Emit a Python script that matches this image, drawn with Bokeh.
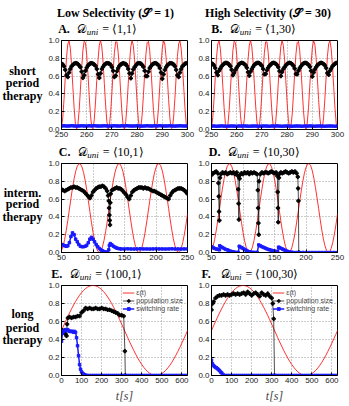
from bokeh.plotting import figure
from bokeh.layouts import column, row
from bokeh.models import Range1d, FixedTicker, PrintfTickFormatter, Label, Legend, LegendItem
from bokeh.embed import file_html
from bokeh.resources import INLINE

# ---------------- text ----------------
COL_TITLES = ["Low Selectivity (\U0001D4AE = 1)", "High Selectivity (\U0001D4AE = 30)"]
ROW_LABELS = [["short", "period", "therapy"], ["interm.", "period", "therapy"], ["long", "period", "therapy"]]
PANEL_LETTERS = [["A.", "B."], ["C.", "D."], ["E.", "F."]]
PANEL_PARAMS = [["\u27E81,1\u27E9", "\u27E81,30\u27E9"], ["\u27E810,1\u27E9", "\u27E810,30\u27E9"],
                ["\u27E8100,1\u27E9", "\u27E8100,30\u27E9"]]
LEGEND_LABELS = ["\u03B5(t)", "population size", "switching rate"]
X_LABEL = "t[s]"

Y_TICKS = [0.0, 0.2, 0.4, 0.6, 0.8, 1.0]
X_TICKS = [[250, 260, 270, 280, 290, 300], [50, 100, 150, 200, 250], [0, 100, 200, 300, 400, 500, 600]]
X_RANGES = [(250, 300), (50, 250), (0, 628)]

# ---------------- row 1: short period ----------------
T_SHORT = [250, 250.5, 251, 251.5, 252, 252.5, 253, 253.5, 254, 254.5,
           255, 255.5, 256, 256.5, 257, 257.5, 258, 258.5, 259, 259.5,
           260, 260.5, 261, 261.5, 262, 262.5, 263, 263.5, 264, 264.5,
           265, 265.5, 266, 266.5, 267, 267.5, 268, 268.5, 269, 269.5,
           270, 270.5, 271, 271.5, 272, 272.5, 273, 273.5, 274, 274.5,
           275, 275.5, 276, 276.5, 277, 277.5, 278, 278.5, 279, 279.5,
           280, 280.5, 281, 281.5, 282, 282.5, 283, 283.5, 284, 284.5,
           285, 285.5, 286, 286.5, 287, 287.5, 288, 288.5, 289, 289.5,
           290, 290.5, 291, 291.5, 292, 292.5, 293, 293.5, 294, 294.5,
           295, 295.5, 296, 296.5, 297, 297.5, 298, 298.5, 299, 299.5, 300]
EPS_SHORT = [0.015, 0.132, 0.339, 0.586, 0.812, 0.961, 0.997, 0.912, 0.726, 0.484,
             0.247, 0.071, 0.000, 0.052, 0.214, 0.445, 0.690, 0.889, 0.992, 0.975,
             0.842, 0.625, 0.377, 0.160, 0.026, 0.008, 0.110, 0.309, 0.553, 0.785,
             0.947, 1.000, 0.930, 0.755, 0.517, 0.275, 0.089, 0.003, 0.038, 0.187,
             0.412, 0.659, 0.867, 0.985, 0.984, 0.865, 0.656, 0.410, 0.185, 0.037,
             0.003, 0.091, 0.279, 0.520, 0.757, 0.931, 1.000, 0.946, 0.783, 0.550,
             0.305, 0.108, 0.007, 0.027, 0.162, 0.380, 0.628, 0.844, 0.976, 0.991,
             0.887, 0.687, 0.442, 0.211, 0.051, 0.000, 0.073, 0.249, 0.487, 0.729,
             0.914, 0.998, 0.960, 0.809, 0.583, 0.337, 0.130, 0.014, 0.017, 0.139,
             0.348, 0.595, 0.819, 0.964, 0.996, 0.907, 0.717, 0.475, 0.239, 0.066, 0.000]
POP_A = [0.74, 0.73, 0.71, 0.67, 0.61, 0.59, 0.64, 0.68, 0.71, 0.725,
         0.74, 0.745, 0.745, 0.735, 0.72, 0.70, 0.65, 0.58, 0.61, 0.66,
         0.695, 0.72, 0.73, 0.745, 0.745, 0.74, 0.73, 0.715, 0.68, 0.62,
         0.58, 0.63, 0.68, 0.705, 0.725, 0.74, 0.745, 0.745, 0.74, 0.725,
         0.70, 0.66, 0.59, 0.605, 0.655, 0.69, 0.715, 0.73, 0.74, 0.745,
         0.74, 0.735, 0.715, 0.68, 0.63, 0.575, 0.63, 0.675, 0.70, 0.72,
         0.74, 0.745, 0.745, 0.74, 0.725, 0.705, 0.66, 0.60, 0.60, 0.65,
         0.69, 0.71, 0.73, 0.74, 0.745, 0.745, 0.735, 0.72, 0.69, 0.64,
         0.57, 0.62, 0.67, 0.70, 0.72, 0.735, 0.745, 0.745, 0.74, 0.73,
         0.71, 0.67, 0.61, 0.59, 0.64, 0.68, 0.71, 0.725, 0.74, 0.745, 0.745]
POP_B = [0.745, 0.735, 0.72, 0.69, 0.64, 0.61, 0.66, 0.685, 0.71, 0.725,
         0.74, 0.748, 0.748, 0.742, 0.73, 0.71, 0.67, 0.61, 0.635, 0.67,
         0.695, 0.715, 0.735, 0.745, 0.75, 0.745, 0.737, 0.722, 0.695, 0.645,
         0.605, 0.65, 0.68, 0.705, 0.725, 0.74, 0.747, 0.75, 0.745, 0.73,
         0.715, 0.68, 0.62, 0.625, 0.665, 0.695, 0.715, 0.73, 0.743, 0.75,
         0.747, 0.738, 0.725, 0.70, 0.655, 0.60, 0.645, 0.68, 0.70, 0.722,
         0.737, 0.746, 0.75, 0.745, 0.733, 0.717, 0.685, 0.625, 0.62, 0.66,
         0.69, 0.71, 0.73, 0.742, 0.748, 0.748, 0.74, 0.727, 0.705, 0.66,
         0.595, 0.64, 0.675, 0.70, 0.72, 0.735, 0.745, 0.75, 0.745, 0.735,
         0.72, 0.69, 0.635, 0.615, 0.66, 0.685, 0.71, 0.727, 0.74, 0.748, 0.748]
T_SHORT_SW = [250, 251, 252, 253, 254, 255, 256, 257, 258, 259, 260, 261, 262, 263, 264, 265, 266,
              267, 268, 269, 270, 271, 272, 273, 274, 275, 276, 277, 278, 279, 280, 281, 282, 283,
              284, 285, 286, 287, 288, 289, 290, 291, 292, 293, 294, 295, 296, 297, 298, 299, 300]
SW_A = [0.040, 0.041, 0.039, 0.040, 0.042, 0.040, 0.038, 0.040, 0.041, 0.040, 0.039, 0.041, 0.040,
        0.042, 0.040, 0.039, 0.040, 0.041, 0.040, 0.038, 0.040, 0.041, 0.040, 0.039, 0.041, 0.040,
        0.042, 0.040, 0.039, 0.040, 0.041, 0.040, 0.038, 0.040, 0.041, 0.040, 0.039, 0.041, 0.040,
        0.042, 0.040, 0.039, 0.040, 0.041, 0.040, 0.038, 0.040, 0.041, 0.040, 0.039, 0.040]
SW_B = [0.038, 0.039, 0.037, 0.038, 0.040, 0.038, 0.037, 0.038, 0.039, 0.038, 0.037, 0.039, 0.038,
        0.040, 0.038, 0.037, 0.038, 0.039, 0.038, 0.037, 0.038, 0.039, 0.038, 0.037, 0.039, 0.038,
        0.040, 0.038, 0.037, 0.038, 0.039, 0.038, 0.037, 0.038, 0.039, 0.038, 0.037, 0.039, 0.038,
        0.040, 0.038, 0.037, 0.038, 0.039, 0.038, 0.037, 0.038, 0.039, 0.038, 0.037, 0.038]

# ---------------- row 2: intermediate period ----------------
T_MID = [50, 52.5, 55, 57.5, 60, 62.5, 65, 67.5, 70, 72.5, 75, 77.5, 80, 82.5, 85, 87.5, 90, 92.5, 95, 97.5,
         100, 102.5, 105, 107.5, 110, 112.5, 115, 117.5, 120, 122.5, 125, 127.5, 130, 132.5, 135, 137.5,
         140, 142.5, 145, 147.5, 150, 152.5, 155, 157.5, 160, 162.5, 165, 167.5, 170, 172.5, 175, 177.5,
         180, 182.5, 185, 187.5, 190, 192.5, 195, 197.5, 200, 202.5, 205, 207.5, 210, 212.5, 215, 217.5,
         220, 222.5, 225, 227.5, 230, 232.5, 235, 237.5, 240, 242.5, 245, 247.5, 250]
EPS_MID = [0.021, 0.071, 0.147, 0.246, 0.360, 0.483, 0.608, 0.725, 0.828, 0.912,
           0.969, 0.997, 0.995, 0.961, 0.899, 0.812, 0.706, 0.587, 0.462, 0.340,
           0.228, 0.133, 0.060, 0.015, 0.000, 0.016, 0.062, 0.136, 0.232, 0.344,
           0.467, 0.592, 0.710, 0.816, 0.902, 0.963, 0.995, 0.997, 0.967, 0.909,
           0.825, 0.721, 0.603, 0.479, 0.356, 0.242, 0.144, 0.068, 0.019, 0.000,
           0.010, 0.054, 0.125, 0.218, 0.331, 0.453, 0.575, 0.693, 0.801, 0.892,
           0.956, 0.994, 0.998, 0.975, 0.918, 0.835, 0.731, 0.614, 0.496, 0.372,
           0.256, 0.156, 0.077, 0.024, 0.001, 0.008, 0.047, 0.113, 0.203, 0.311, 0.434]
T_C_POP = [50, 52.5, 55, 57.5, 60, 62.5, 65, 67.5, 70, 72.5, 75, 77.5, 80, 82.5, 85, 87.5, 90, 92.5, 95,
           97.5, 100, 102.5, 105, 107.5, 110, 112.5, 115, 117.5, 120, 122.5, 124, 125, 125.5, 126, 126.5,
           127, 127.5, 128, 130, 132.5, 135, 137.5, 140, 142.5, 145, 147.5, 150, 152.5, 155, 157.5, 160,
           162.5, 165, 167.5, 170, 172.5, 175, 177.5, 180, 182.5, 185, 187.5, 190, 192.5, 195, 197.5, 200,
           202.5, 205, 207.5, 210, 212.5, 215, 217.5, 220, 222.5, 225, 227.5, 230, 232.5, 235, 237.5, 240,
           242.5, 245, 247.5, 250]
POP_C = [0.71, 0.70, 0.69, 0.70, 0.71, 0.72, 0.73, 0.73, 0.74, 0.73, 0.73, 0.72, 0.71, 0.70, 0.69, 0.67,
         0.65, 0.63, 0.61, 0.64, 0.68, 0.70, 0.72, 0.73, 0.74, 0.74, 0.75, 0.74, 0.72, 0.69, 0.64, 0.58,
         0.50, 0.42, 0.36, 0.31, 0.56, 0.66, 0.70, 0.71, 0.72, 0.73, 0.72, 0.72, 0.71, 0.69, 0.67, 0.65,
         0.62, 0.60, 0.64, 0.68, 0.70, 0.71, 0.72, 0.73, 0.73, 0.73, 0.72, 0.73, 0.72, 0.72, 0.71, 0.70,
         0.69, 0.69, 0.68, 0.67, 0.66, 0.65, 0.64, 0.63, 0.62, 0.61, 0.60, 0.64, 0.67, 0.69, 0.70, 0.71,
         0.72, 0.72, 0.72, 0.71, 0.70, 0.68, 0.66]
T_C_SW = [50, 52.5, 55, 57.5, 60, 62.5, 65, 67.5, 70, 72.5, 75, 77.5, 80, 82.5, 85, 87.5, 90, 92.5, 95, 97.5,
          100, 102.5, 105, 107.5, 110, 112.5, 115, 117.5, 120, 122.5, 125, 126, 127.5, 130, 132.5, 135, 137.5,
          140, 142.5, 145, 150, 155, 160, 165, 170, 175, 180, 185, 190, 195, 200, 205, 210, 215, 220, 225,
          230, 235, 240, 245, 250]
SW_C = [0.09, 0.085, 0.075, 0.07, 0.075, 0.11, 0.18, 0.22, 0.20, 0.15, 0.12, 0.09, 0.07, 0.065, 0.065, 0.07,
        0.08, 0.11, 0.15, 0.17, 0.15, 0.12, 0.09, 0.065, 0.045, 0.03, 0.02, 0.01, 0.005, 0.003, 0.03, 0.08,
        0.10, 0.085, 0.07, 0.06, 0.05, 0.045, 0.042, 0.04, 0.04, 0.041, 0.04, 0.039, 0.04, 0.041, 0.04, 0.04,
        0.039, 0.04, 0.041, 0.04, 0.04, 0.039, 0.04, 0.041, 0.04, 0.04, 0.039, 0.04, 0.04]
T_D_POP = [50, 52.5, 55, 57.5, 60, 61, 61.5, 62, 62.5, 63.5, 65, 67.5, 70, 72.5, 75, 77.5, 80, 82.5, 85, 87.5,
           90, 92, 92.5, 93, 93.5, 94.5, 95, 97.5, 100, 102.5, 105, 107.5, 110, 112.5, 115, 117.5, 120, 122.5,
           123.5, 124, 124.5, 125, 125.5, 127.5, 130, 132.5, 135, 137.5, 140, 142.5, 145, 147.5, 150, 152.5,
           154.5, 155, 155.5, 156, 157, 157.5, 160, 162.5, 165, 167.5, 170, 172.5, 175, 177.5, 180, 182.5, 185,
           187, 187.5, 188, 188.5]
POP_D = [0.87, 0.89, 0.90, 0.91, 0.89, 0.78, 0.63, 0.46, 0.36, 0.84, 0.88, 0.90, 0.89, 0.90, 0.88, 0.89, 0.90,
         0.89, 0.90, 0.88, 0.90, 0.86, 0.71, 0.55, 0.37, 0.83, 0.87, 0.89, 0.88, 0.90, 0.89, 0.90, 0.88, 0.90,
         0.89, 0.90, 0.89, 0.88, 0.70, 0.50, 0.33, 0.20, 0.80, 0.88, 0.90, 0.89, 0.90, 0.90, 0.89, 0.90, 0.91,
         0.90, 0.89, 0.90, 0.86, 0.68, 0.50, 0.34, 0.84, 0.88, 0.90, 0.89, 0.90, 0.91, 0.90, 0.89, 0.90, 0.91,
         0.90, 0.91, 0.89, 0.85, 0.72, 0.58, 0.0]
T_D_SW = [50, 52.5, 55, 57.5, 60, 62.5, 63, 65, 67.5, 70, 72.5, 75, 77.5, 80, 82.5, 85, 87.5, 90, 92.5, 94, 95,
          97.5, 100, 102.5, 105, 107.5, 110, 112.5, 115, 117.5, 120, 122.5, 125, 127.5, 130, 132.5, 135, 137.5,
          140, 142.5, 145, 147.5, 150, 152.5, 155, 156.5, 157.5, 160, 162.5, 165, 167.5, 170, 172.5, 175, 177.5,
          180, 185, 190, 195, 200, 205, 210, 215, 220, 225, 230, 235, 240, 245, 250]
SW_D = [0.065, 0.055, 0.045, 0.04, 0.035, 0.03, 0.075, 0.065, 0.055, 0.045, 0.035, 0.03, 0.022, 0.015, 0.01,
        0.005, 0.002, 0.0, 0.0, 0.07, 0.065, 0.055, 0.045, 0.035, 0.025, 0.015, 0.008, 0.004, 0.002, 0.0, 0.0,
        0.0, 0.085, 0.075, 0.065, 0.058, 0.05, 0.042, 0.035, 0.03, 0.025, 0.02, 0.015, 0.012, 0.01, 0.06, 0.055,
        0.048, 0.04, 0.03, 0.022, 0.015, 0.008, 0.004, 0.002, 0.0, 0.0, 0.0, 0.0, 0.0, 0.0, 0.0, 0.0, 0.0, 0.0,
        0.0, 0.0, 0.0, 0.0, 0.0]

# ---------------- row 3: long period ----------------
T_LONG = [0, 10, 20, 30, 40, 50, 60, 70, 80, 90, 100, 110, 120, 130, 140, 150, 160, 170, 180, 190, 200, 210,
          220, 230, 240, 250, 260, 270, 280, 290, 300, 310, 320, 330, 340, 350, 360, 370, 380, 390, 400, 410,
          420, 430, 440, 450, 460, 470, 480, 490, 500, 510, 520, 530, 540, 550, 560, 570, 580, 590, 600, 610,
          620, 630]
EPS_LONG = [0.500, 0.550, 0.599, 0.648, 0.695, 0.740, 0.782, 0.822, 0.859, 0.892,
            0.921, 0.946, 0.966, 0.982, 0.993, 0.999, 1.000, 0.996, 0.987, 0.973,
            0.955, 0.932, 0.904, 0.873, 0.838, 0.799, 0.758, 0.714, 0.668, 0.620,
            0.571, 0.521, 0.471, 0.421, 0.372, 0.325, 0.279, 0.235, 0.194, 0.156,
            0.122, 0.091, 0.064, 0.042, 0.024, 0.011, 0.003, 0.000, 0.002, 0.009,
            0.021, 0.037, 0.058, 0.084, 0.114, 0.147, 0.184, 0.225, 0.268, 0.313,
            0.360, 0.409, 0.458, 0.508]
T_E_POP = [0, 5, 10, 15, 20, 25, 28, 32, 40, 50, 60, 70, 80, 90, 100, 110, 120, 130, 140, 150, 160, 170, 180,
           190, 200, 210, 220, 230, 240, 250, 260, 270, 280, 290, 300, 310, 316, 318]
POP_E = [0.50, 0.50, 0.48, 0.50, 0.46, 0.44, 0.57, 0.64, 0.65, 0.64, 0.65, 0.65, 0.66, 0.66, 0.70, 0.72, 0.75,
         0.74, 0.75, 0.74, 0.74, 0.75, 0.74, 0.74, 0.75, 0.74, 0.74, 0.73, 0.73, 0.72, 0.71, 0.70, 0.69, 0.67,
         0.67, 0.66, 0.27, 0.0]
T_E_SW = [0, 5, 10, 15, 20, 25, 30, 35, 40, 45, 50, 55, 60, 65, 70, 75, 80, 85, 90, 95, 100, 105, 110, 115,
          120, 125, 130, 140, 150, 160, 170, 180, 190, 200, 210, 220, 230, 240, 250, 260, 270, 280, 290, 300,
          310, 320, 330, 340, 350, 360, 370, 380, 390, 400, 410, 420, 430, 440, 450, 460, 470, 480, 490, 500,
          510, 520, 530, 540, 550, 560, 570, 580, 590, 600, 610, 620]
SW_E = [0.38, 0.47, 0.49, 0.50, 0.51, 0.50, 0.51, 0.50, 0.49, 0.49, 0.49, 0.49, 0.48, 0.49, 0.48, 0.42, 0.33,
        0.22, 0.12, 0.07, 0.04, 0.025, 0.015, 0.008, 0.003, 0.0] + [0.0] * 50
T_F_POP = [0, 5, 10, 20, 30, 40, 50, 60, 70, 80, 90, 100, 110, 120, 130, 140, 150, 160, 170, 180, 190, 200,
           210, 220, 230, 240, 250, 260, 270, 280, 290, 300, 305, 310, 314]
POP_F = [0.73, 0.80, 0.82, 0.86, 0.88, 0.89, 0.89, 0.90, 0.89, 0.90, 0.89, 0.90, 0.91, 0.90, 0.91, 0.90, 0.91,
         0.92, 0.90, 0.93, 0.91, 0.89, 0.91, 0.92, 0.90, 0.88, 0.92, 0.90, 0.89, 0.91, 0.88, 0.86, 0.80, 0.63, 0.0]
T_F_SW = [0, 5, 10, 15, 20, 25, 30, 35, 40, 45, 50, 55, 60, 70, 80, 90, 100, 110, 120, 130, 140, 150, 160,
          170, 180, 190, 200, 210, 220, 230, 240, 250, 260, 270, 280, 290, 300, 310, 320, 330, 340, 350, 360,
          370, 380, 390, 400, 410, 420, 430, 440, 450, 460, 470, 480, 490, 500, 510, 520, 530, 540, 550, 560,
          570, 580, 590, 600, 610, 620]
SW_F = [0.17, 0.13, 0.11, 0.10, 0.09, 0.085, 0.075, 0.065, 0.055, 0.04, 0.03, 0.015, 0.005] + [0.0] * 56

# ---------------- styling / geometry ----------------
SERIF = "Liberation Serif"
SANS = "Liberation Sans"
RED = "#ff1a1a"
BLUE = "#1a1aff"
BLACK = "#000000"

TOTAL_W = 349
LABEL_W = 44
COL_GEOM = [(151, 17, 8), (154, 16, 12)]               # width, border left, border right
ROW_GEOM = [(105, 3, 13), (103, 3, 11), (124, 3, 31)]  # height, border top, border bottom
STRIP_H = [37, 18, 19]


def lbl(p, x, y, text, size, font=SERIF, style="normal", align="left", baseline="middle"):
    p.add_layout(Label(x=x, y=y, x_units="screen", y_units="screen", text=text,
                       text_font=font, text_font_size=f"{size}px", text_font_style=style,
                       text_align=align, text_baseline=baseline, text_color="black"))


def text_fig(w, h, top=0, bottom=0):
    p = figure(width=w, height=h, x_range=Range1d(0, 1), y_range=Range1d(0, 1),
               output_backend="svg", toolbar_location=None, title=None,
               min_border_left=0, min_border_right=0, min_border_top=top, min_border_bottom=bottom,
               x_axis_location=None, y_axis_location=None)
    p.grid.visible = False
    p.outline_line_color = None
    return p


def panel_title(p, x0, yc, r, c):
    # yc: vertical centre (screen px above the strip's bottom) of the main title text
    lbl(p, x0, yc, PANEL_LETTERS[r][c], 12, style="bold")
    lbl(p, x0 + 19, yc, "\U0001D49F", 12)
    lbl(p, x0 + 28.5, yc - 3.3, "uni", 9, style="italic")
    lbl(p, x0 + 44, yc, "= " + PANEL_PARAMS[r][c], 12)


def make_panel(r, c, t_eps, eps, t_pop, pop, t_sw, sw):
    w, bl, br = COL_GEOM[c]
    h, bt, bb = ROW_GEOM[r]
    p = figure(width=w, height=h, x_range=Range1d(*X_RANGES[r]), y_range=Range1d(0, 1),
               output_backend="svg", toolbar_location=None, title=None,
               min_border_left=bl, min_border_right=br, min_border_top=bt, min_border_bottom=bb)
    p.outline_line_color = "black"
    p.outline_line_alpha = 1.0
    p.outline_line_width = 1
    for ax in (p.xaxis[0], p.yaxis[0]):
        ax.major_tick_in = 3
        ax.major_tick_out = 0
        ax.minor_tick_in = 0
        ax.minor_tick_out = 0
        ax.major_tick_line_color = "black"
        ax.axis_line_color = "black"
        ax.major_label_text_font = SANS
        ax.major_label_text_font_size = "8px"
        ax.major_label_text_color = "#222222"
        ax.major_label_standoff = 2
    p.xaxis[0].ticker = FixedTicker(ticks=X_TICKS[r])
    p.yaxis[0].ticker = FixedTicker(ticks=Y_TICKS)
    p.yaxis[0].formatter = PrintfTickFormatter(format="%.1f")
    p.grid.grid_line_color = "#9a9a9a"
    p.grid.grid_line_dash = "1 2"
    p.grid.grid_line_width = 1

    r_eps = p.line(t_eps, eps, line_color=RED, line_width=0.9)
    r_pl = p.line(t_pop, pop, line_color=BLACK, line_width=0.7)
    r_ps = p.scatter(t_pop, pop, marker="plus", size=3.5, line_color=BLACK, fill_color=BLACK, line_width=0.9)
    r_sl = p.line(t_sw, sw, line_color=BLUE, line_width=1.5)
    r_ss = p.scatter(t_sw, sw, marker="square", size=2.5, line_color=BLUE, fill_color=BLUE)

    if r == 2:
        leg = Legend(items=[LegendItem(label=LEGEND_LABELS[0], renderers=[r_eps]),
                            LegendItem(label=LEGEND_LABELS[1], renderers=[r_pl, r_ps]),
                            LegendItem(label=LEGEND_LABELS[2], renderers=[r_sl, r_ss])],
                     location="top_right", background_fill_alpha=0, border_line_alpha=0,
                     label_text_font=SANS, label_text_font_size="7px", label_height=7,
                     glyph_height=7, glyph_width=12, spacing=1, padding=1, margin=3,
                     label_standoff=2)
        p.add_layout(leg)
        p.xaxis[0].axis_label = X_LABEL
        p.xaxis[0].axis_label_text_font = SERIF
        p.xaxis[0].axis_label_text_font_style = "italic"
        p.xaxis[0].axis_label_text_font_size = "12px"
        p.xaxis[0].axis_label_standoff = 3
    return p


# ---- title strips (texts placed inside their own frames) ----
s1 = text_fig(TOTAL_W, STRIP_H[0])
lbl(s1, 115, 25, COL_TITLES[0], 12, style="bold", align="center")
lbl(s1, 267.5, 25, COL_TITLES[1], 12, style="bold", align="center")
panel_title(s1, 57.7, 8.8, 0, 0)
panel_title(s1, 210.7, 8.8, 0, 1)

s2 = text_fig(TOTAL_W, STRIP_H[1])
panel_title(s2, 58.3, 8.8, 1, 0)
panel_title(s2, 208.3, 8.8, 1, 1)

s3 = text_fig(TOTAL_W, STRIP_H[2])
panel_title(s3, 50.7, 8.8, 2, 0)
panel_title(s3, 201.0, 8.8, 2, 1)

# ---- row label figures (frames aligned with the panel frames) ----
ROW_LABEL_Y = [[59, 47, 34], [60, 48.5, 36], [62, 48, 36]]
label_figs = []
for r in range(3):
    h, bt, bb = ROW_GEOM[r]
    lf = text_fig(LABEL_W, h, top=bt, bottom=bb)
    for txt, yy in zip(ROW_LABELS[r], ROW_LABEL_Y[r]):
        lbl(lf, 22, yy, txt, 12, style="bold", align="center")
    label_figs.append(lf)

pA = make_panel(0, 0, T_SHORT, EPS_SHORT, T_SHORT, POP_A, T_SHORT_SW, SW_A)
pB = make_panel(0, 1, T_SHORT, EPS_SHORT, T_SHORT, POP_B, T_SHORT_SW, SW_B)
pC = make_panel(1, 0, T_MID, EPS_MID, T_C_POP, POP_C, T_C_SW, SW_C)
pD = make_panel(1, 1, T_MID, EPS_MID, T_D_POP, POP_D, T_D_SW, SW_D)
pE = make_panel(2, 0, T_LONG, EPS_LONG, T_E_POP, POP_E, T_E_SW, SW_E)
pF = make_panel(2, 1, T_LONG, EPS_LONG, T_F_POP, POP_F, T_F_SW, SW_F)

layout = column(
    s1,
    row(label_figs[0], pA, pB, spacing=0),
    s2,
    row(label_figs[1], pC, pD, spacing=0),
    s3,
    row(label_figs[2], pE, pF, spacing=0),
    spacing=0,
)

open("out.html", "w").write(file_html(layout, INLINE))
